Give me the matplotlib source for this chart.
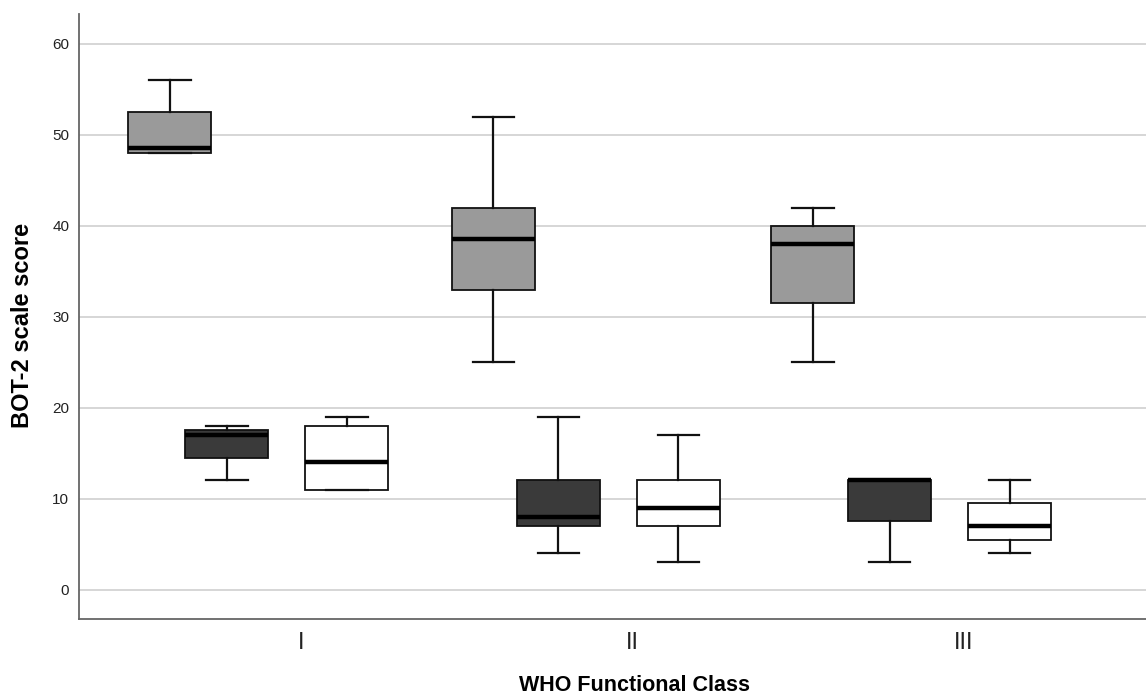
import matplotlib
matplotlib.use("Agg")
import matplotlib.pyplot as plt

plt.rcParams['font.family'] = ['Liberation Sans', 'DejaVu Sans']

# ---- data ----
classes = ["I", "II", "III"]
# series 1 (gray)
gray_whislo = [48, 25, 25]
gray_q1     = [48, 33, 31.5]
gray_med    = [48.6, 38.5, 38]
gray_q3     = [52.5, 42, 40]
gray_whishi = [56, 52, 42]
# series 2 (dark)
dark_whislo = [12, 4, 3]
dark_q1     = [14.5, 7, 7.5]
dark_med    = [17, 8, 12]
dark_q3     = [17.5, 12, 12]
dark_whishi = [18, 19, 12]
# series 3 (white)
white_whislo = [11, 3, 4]
white_q1     = [11, 7, 5.5]
white_med    = [14, 9, 7]
white_q3     = [18, 12, 9.5]
white_whishi = [19, 17, 12]

yticks = [0, 10, 20, 30, 40, 50, 60]

# ---- layout ----
gray_offsets = [-0.395, -0.419, -0.455]
dark_offset = -0.223
white_offset = 0.139
box_w = 0.25

fig = plt.figure(figsize=(11.46, 6.97), dpi=100)
ax = fig.add_axes([0.0689, 0.1115, 0.9311, 0.8685])

def stats(lo, q1, med, q3, hi):
    return [dict(whislo=a, q1=b, med=c, q3=d, whishi=e, fliers=[])
            for a, b, c, d, e in zip(lo, q1, med, q3, hi)]

centers = [1, 2, 3]
series = [
    (stats(gray_whislo, gray_q1, gray_med, gray_q3, gray_whishi),
     [c + o for c, o in zip(centers, gray_offsets)], '#9a9a9a'),
    (stats(dark_whislo, dark_q1, dark_med, dark_q3, dark_whishi),
     [c + dark_offset for c in centers], '#3a3a3a'),
    (stats(white_whislo, white_q1, white_med, white_q3, white_whishi),
     [c + white_offset for c in centers], '#ffffff'),
]

for st, pos, col in series:
    ax.bxp(st, positions=pos, widths=box_w, patch_artist=True,
           showfliers=False, manage_ticks=False,
           boxprops=dict(facecolor=col, edgecolor='#111111', linewidth=1.3),
           medianprops=dict(color='black', linewidth=3.2, solid_capstyle='butt'),
           whiskerprops=dict(color='#111111', linewidth=1.6),
           capprops=dict(color='#111111', linewidth=1.6),
           zorder=3)

ax.set_xlim(0.331, 3.55)
ax.set_ylim(-3.26, 63.3)
ax.set_yticks(yticks)
ax.set_yticklabels([str(v) for v in yticks], fontsize=11, color='#222222')
ax.set_xticks(centers)
ax.set_xticklabels(classes, fontsize=17, color='#222222')
ax.tick_params(axis='both', length=0)
ax.tick_params(axis='y', pad=7)
ax.tick_params(axis='x', pad=9)

ax.yaxis.grid(True, color='#cfcfcf', linewidth=1.2, zorder=0)
ax.set_axisbelow(True)
for s in ['top', 'right']:
    ax.spines[s].set_visible(False)
for s in ['left', 'bottom']:
    ax.spines[s].set_color('#666666')
    ax.spines[s].set_linewidth(1.3)

ax.set_ylabel("BOT-2 scale score", fontsize=17, fontweight='bold', va='center')
ax.yaxis.set_label_coords(-0.0525, 0.486)
ax.set_xlabel("WHO Functional Class", fontsize=15.5, fontweight='bold', va='baseline')
ax.xaxis.set_label_coords(0.5206, -0.119)

fig.savefig("out.png", dpi=100)
